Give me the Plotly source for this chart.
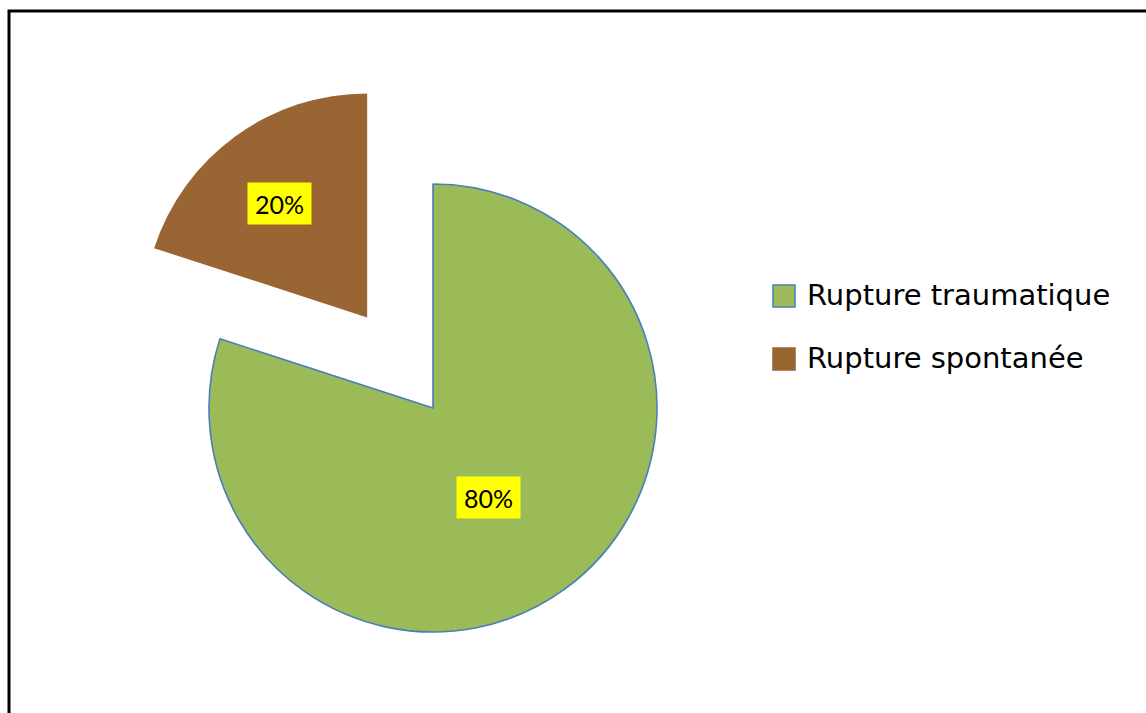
import math
import plotly.graph_objects as go

# Data
labels = ["Rupture traumatique", "Rupture spontanée"]
values = [80, 20]

# Styling
colors = ["#9BBB59", "#996633"]
outline_colors = ["#4A7EBB", "rgba(0,0,0,0)"]
outline_widths = [1.6, 0]
pulls = [0.0, 0.5]            # fraction of radius each slice is pulled out
label_radius = [0.47, 0.64]   # radial position of the value tags
label_turn = [4.5, -1.5]      # small angular nudge of the tags, degrees
W, H = 1146, 713
CX, CY, R = 433, 408, 224     # pie centre and radius in pixels
TRANSPARENT = "rgba(0,0,0,0)"

total = sum(values)


def px_to_paper(x, y):
    return x / W, 1 - y / H


fig = go.Figure()
annotations = []
start = 0.0
for i, (lab, val) in enumerate(zip(labels, values)):
    frac = val / total
    mid = (start + frac / 2) * 2 * math.pi          # clockwise from 12 o'clock
    dx, dy = math.sin(mid), -math.cos(mid)
    cx = CX + pulls[i] * R * dx
    cy = CY + pulls[i] * R * dy
    x0, y1 = px_to_paper(cx - R, cy - R)
    x1, y0 = px_to_paper(cx + R, cy + R)
    slice_colors = [colors[j] if j == i else TRANSPARENT for j in range(len(values))]
    line_colors = [outline_colors[j] if j == i else TRANSPARENT for j in range(len(values))]
    line_widths = [outline_widths[j] if j == i else 0 for j in range(len(values))]
    fig.add_trace(go.Pie(
        labels=labels, values=values, sort=False, direction="clockwise", rotation=0,
        marker=dict(colors=slice_colors, line=dict(color=line_colors, width=line_widths)),
        textinfo="none", hoverinfo="label+percent", showlegend=False,
        domain=dict(x=[x0, x1], y=[y0, y1]),
    ))
    # value tag
    a = mid + math.radians(label_turn[i])
    tx, ty = px_to_paper(cx + label_radius[i] * R * math.sin(a),
                         cy - label_radius[i] * R * math.cos(a))
    annotations.append(dict(
        x=tx, y=ty, xref="paper", yref="paper", xanchor="center", yanchor="middle",
        text=f"{frac * 100:.0f}%", showarrow=False,
        font=dict(family="Lato", size=25, color="black"),
        bgcolor="#FFFF00", borderpad=0, width=63, height=41, align="center", valign="middle",
    ))
    start += frac

# Legend drawn as swatches + text
shapes = []
legend_x, legend_y0, legend_dy, sw = 784, 296, 63, 22
for i, lab in enumerate(labels):
    ly = legend_y0 + i * legend_dy
    ax0, ay1 = px_to_paper(legend_x - sw / 2, ly - sw / 2)
    ax1, ay0 = px_to_paper(legend_x + sw / 2, ly + sw / 2)
    shapes.append(dict(
        type="rect", xref="paper", yref="paper", x0=ax0, x1=ax1, y0=ay0, y1=ay1,
        fillcolor=colors[i],
        line=dict(color=outline_colors[i] if outline_widths[i] else colors[i], width=1.5),
    ))
    tx, ty = px_to_paper(legend_x + sw / 2 + 10, ly - 1)
    annotations.append(dict(
        x=tx, y=ty, xref="paper", yref="paper", xanchor="left", yanchor="middle",
        text=lab, showarrow=False, font=dict(family="DejaVu Sans", size=29, color="black"),
    ))

# Outer frame (runs past the right and bottom edges)
fx0, fy1 = px_to_paper(9, 11)
shapes.append(dict(type="rect", xref="paper", yref="paper", x0=fx0, y1=fy1, x1=1.2, y0=-0.2,
                   line=dict(color="black", width=3), fillcolor=TRANSPARENT))

fig.update_layout(
    width=W, height=H, margin=dict(l=0, r=0, t=0, b=0),
    paper_bgcolor="white", plot_bgcolor="white",
    annotations=annotations, shapes=shapes,
)

fig.write_html("out.html")
